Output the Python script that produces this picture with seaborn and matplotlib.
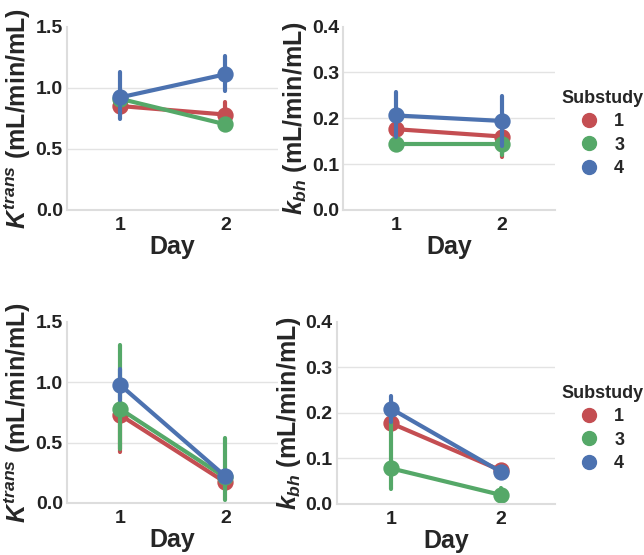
import pandas as pd
import matplotlib.pyplot as plt
import seaborn as sns
from matplotlib.lines import Line2D

sns.set_theme(style="whitegrid")
plt.rcParams["font.family"] = ["Liberation Sans", "DejaVu Sans"]
plt.rcParams["font.weight"] = "bold"
plt.rcParams["axes.labelweight"] = "bold"
plt.rcParams["mathtext.fontset"] = "custom"
plt.rcParams["mathtext.rm"] = "Liberation Sans:bold"
plt.rcParams["mathtext.it"] = "Liberation Sans:italic:bold"
plt.rcParams["mathtext.bf"] = "Liberation Sans:bold"

# ---------- data (point, low, high per substudy, day 1 / day 2) ----------
days = ["1", "2"]
substudies = ["1", "3", "4"]
palette = {"1": "#c44e52", "3": "#55a868", "4": "#4c72b0"}

top_ktrans_pt = {"1": [0.85, 0.78], "3": [0.91, 0.70], "4": [0.92, 1.11]}
top_ktrans_lo = {"1": [0.80, 0.74], "3": [0.89, 0.68], "4": [0.74, 0.97]}
top_ktrans_hi = {"1": [0.90, 0.88], "3": [0.93, 0.72], "4": [1.13, 1.26]}

top_kbh_pt = {"1": [0.176, 0.160], "3": [0.143, 0.143], "4": [0.206, 0.194]}
top_kbh_lo = {"1": [0.160, 0.115], "3": [0.138, 0.120], "4": [0.160, 0.140]}
top_kbh_hi = {"1": [0.190, 0.190], "3": [0.148, 0.165], "4": [0.258, 0.249]}

bot_ktrans_pt = {"1": [0.73, 0.17], "3": [0.78, 0.21], "4": [0.98, 0.22]}
bot_ktrans_lo = {"1": [0.42, 0.13], "3": [0.45, 0.02], "4": [0.85, 0.19]}
bot_ktrans_hi = {"1": [0.80, 0.21], "3": [1.31, 0.54], "4": [1.11, 0.25]}

bot_kbh_pt = {"1": [0.177, 0.074], "3": [0.078, 0.020], "4": [0.209, 0.071]}
bot_kbh_lo = {"1": [0.170, 0.070], "3": [0.033, 0.005], "4": [0.180, 0.066]}
bot_kbh_hi = {"1": [0.185, 0.080], "3": [0.190, 0.035], "4": [0.238, 0.076]}


def long_frame(pt, lo, hi):
    rows = []
    for s in substudies:
        for i, d in enumerate(days):
            for v in (lo[s][i], pt[s][i], hi[s][i]):
                rows.append({"Day": d, "Substudy": s, "value": v})
    return pd.DataFrame(rows)


def draw(ax, df, ylim, yticks, ylabel):
    sns.pointplot(data=df, x="Day", y="value", hue="Substudy",
                  hue_order=substudies, order=days, palette=palette,
                  estimator="median", errorbar=lambda v: (v.min(), v.max()),
                  dodge=False, markersize=9.5, linewidth=3,
                  err_kws={"linewidth": 3}, ax=ax, legend=False)
    ax.set_ylim(*ylim)
    ax.set_yticks(yticks)
    ax.set_yticklabels([f"{t:.1f}" for t in yticks], fontsize=14, fontweight="bold")
    ax.set_xticks(range(len(days)))
    ax.set_xticklabels(days, fontsize=14, fontweight="bold")
    ax.set_xlim(-0.5, 1.5)
    ax.set_xlabel("Day", fontsize=18, fontweight="bold", labelpad=1)
    ax.set_ylabel(ylabel, fontsize=18, fontweight="bold", labelpad=2)
    ax.grid(axis="x", visible=False)
    ax.grid(axis="y", color="#e3e3e3", linewidth=1)
    ax.yaxis.get_gridlines()[-1].set_visible(False)
    ax.tick_params(axis="y", length=0, pad=3, colors="#222222")
    ax.tick_params(axis="x", length=0, pad=5, colors="#222222")
    sns.despine(ax=ax)
    for sp in ("left", "bottom"):
        ax.spines[sp].set_color("#dddddd")
        ax.spines[sp].set_linewidth(1.5)


def add_legend(ax, top_px):
    handles = [Line2D([], [], marker="o", linestyle="", markersize=10,
                      color=palette[s], label=s) for s in substudies]
    leg = ax.legend(handles=handles, title="Substudy", frameon=False,
                    loc="upper left", bbox_to_anchor=(561 / 644, 1 - top_px / 555),
                    bbox_transform=fig.transFigure,
                    fontsize=13, title_fontsize=13, handlelength=1.0,
                    handletextpad=0.9, labelspacing=0.35, borderaxespad=0,
                    borderpad=0)
    leg.get_title().set_fontweight("bold")
    for t in leg.get_texts():
        t.set_fontweight("bold")


fig = plt.figure(figsize=(6.44, 5.55), dpi=100)
ax1 = fig.add_axes([0.104, 0.622, 0.328, 0.330])
ax2 = fig.add_axes([0.533, 0.622, 0.329, 0.330])
ax3 = fig.add_axes([0.104, 0.094, 0.328, 0.326])
ax4 = fig.add_axes([0.523, 0.092, 0.339, 0.328])

ktrans_label = r"$K^{trans}$ (mL/min/mL)"
kbh_label = r"$k_{bh}$ (mL/min/mL)"

draw(ax1, long_frame(top_ktrans_pt, top_ktrans_lo, top_ktrans_hi),
     (0, 1.5), [0.0, 0.5, 1.0, 1.5], ktrans_label)
draw(ax2, long_frame(top_kbh_pt, top_kbh_lo, top_kbh_hi),
     (0, 0.4), [0.0, 0.1, 0.2, 0.3, 0.4], kbh_label)
draw(ax3, long_frame(bot_ktrans_pt, bot_ktrans_lo, bot_ktrans_hi),
     (0, 1.5), [0.0, 0.5, 1.0, 1.5], ktrans_label)
draw(ax4, long_frame(bot_kbh_pt, bot_kbh_lo, bot_kbh_hi),
     (0, 0.4), [0.0, 0.1, 0.2, 0.3, 0.4], kbh_label)

add_legend(ax2, 90)
add_legend(ax4, 385)

fig.savefig("out.png", dpi=100)
plt.close(fig)
